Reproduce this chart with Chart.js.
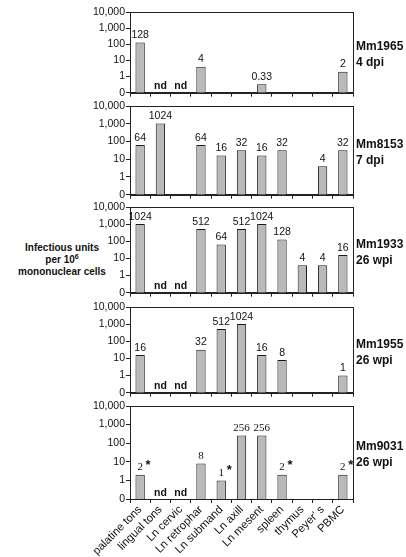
<!DOCTYPE html>
<html lang="en">
<head>
<meta charset="UTF-8">
<title>Infectious units per tissue</title>
<script src="https://cdn.jsdelivr.net/npm/chart.js@4.4.0/dist/chart.umd.min.js"></script>
<style>
  body { margin: 0; background: #fff; }
  #page { position: relative; width: 406px; height: 557px; overflow: hidden; font-family: "Liberation Sans", Arial, sans-serif; }
  .panel { position: absolute; }
  .tag { position: absolute; left: 356px; font-weight: bold; font-size: 12px; line-height: 16px; color: #111; white-space: nowrap; }
  #ylab { position: absolute; left: 0; top: 242px; width: 124px; text-align: center; font-weight: bold; font-size: 10px; line-height: 12px; color: #111; }
  #ylab sup { font-size: 7px; line-height: 0; }
</style>
</head>
<body>
<div id="page">
  <div id="ylab">Infectious units<br>per 10<sup>6</sup><br>mononuclear cells</div>
</div>
<script>
const categories = ['palatine tons', 'lingual tons', 'Ln cervic', 'Ln retrophar', 'Ln submand', 'Ln axill', 'Ln mesent', 'spleen', 'thymus', "Peyer' s", 'PBMC'];
const yTicks = [0.1, 1, 10, 100, 1000, 10000];
const yTickLabels = ['0', '1', '10', '100', '1,000', '10,000'];

// null = no bar; nd lists = category indexes marked "nd"
const mm1965Values = [128, null, null, 4, null, null, 0.33, null, null, null, 2];
const mm1965Nd = [1, 2];
const mm8153Values = [64, 1024, null, 64, 16, 32, 16, 32, null, 4, 32];
const mm8153Nd = [];
const mm1933Values = [1024, null, null, 512, 64, 512, 1024, 128, 4, 4, 16];
const mm1933Nd = [1, 2];
const mm1955Values = [16, null, null, 32, 512, 1024, 16, 8, null, null, 1];
const mm1955Nd = [1, 2];
const mm9031Values = [2, null, null, 8, 1, 256, 256, 2, null, null, 2];
const mm9031Nd = [1, 2];
const mm9031Star = [0, 4, 7, 10];

const panels = [
  { name: 'Mm1965', time: '4 dpi', values: mm1965Values, nd: mm1965Nd, star: [], top: 12, bottom: 94 },
  { name: 'Mm8153', time: '7 dpi', values: mm8153Values, nd: mm8153Nd, star: [], top: 106, bottom: 196 },
  { name: 'Mm1933', time: '26 wpi', values: mm1933Values, nd: mm1933Nd, star: [], top: 207, bottom: 294 },
  { name: 'Mm1955', time: '26 wpi', values: mm1955Values, nd: mm1955Nd, star: [], top: 307, bottom: 394 },
  { name: 'Mm9031', time: '26 wpi', values: mm9031Values, nd: mm9031Nd, star: mm9031Star, top: 406, bottom: 499, serif: true, last: true }
];

const AXIS_LEFT = 130, AXIS_RIGHT = 353, Y_W = 50, PAD_TOP = 8, PAD_RIGHT = 4;

const labelPlugin = {
  id: 'labels',
  afterDatasetsDraw(chart, args, opts) {
    const ctx = chart.ctx;
    const area = chart.chartArea;
    const x = chart.scales.x;
    const meta = chart.getDatasetMeta(0);
    ctx.save();
    ctx.fillStyle = '#111';
    ctx.textAlign = 'center';
    ctx.textBaseline = 'bottom';
    meta.data.forEach((bar, i) => {
      const v = opts.values[i];
      if (v == null) return;
      ctx.font = opts.serif ? '11px "Liberation Serif", "Times New Roman", serif' : '10.5px "Liberation Sans", Arial, sans-serif';
      ctx.fillText(String(v), bar.x, bar.y - 2);
      if (opts.star.includes(i)) {
        ctx.font = 'bold 13px "Liberation Sans", Arial, sans-serif';
        ctx.fillText('*', bar.x + 8, bar.y - 3);
      }
    });
    ctx.font = 'bold 10.5px "Liberation Sans", Arial, sans-serif';
    opts.nd.forEach(i => {
      ctx.fillText('nd', x.getPixelForValue(i), area.bottom - 1);
    });
    // frame
    ctx.strokeStyle = '#222';
    ctx.lineWidth = 1;
    ctx.strokeRect(Math.round(area.left) + 0.5, Math.round(area.top) + 0.5, Math.round(area.right - area.left), Math.round(area.bottom - area.top));
    ctx.restore();
  }
};

const page = document.getElementById('page');

panels.forEach(p => {
  const xH = p.last ? 557 - p.bottom : 6;
  const div = document.createElement('div');
  div.className = 'panel';
  const w = AXIS_RIGHT - AXIS_LEFT + Y_W + PAD_RIGHT;
  const h = PAD_TOP + (p.bottom - p.top) + xH;
  div.style.left = (AXIS_LEFT - Y_W) + 'px';
  div.style.top = (p.top - PAD_TOP) + 'px';
  div.style.width = w + 'px';
  div.style.height = h + 'px';
  const canvas = document.createElement('canvas');
  div.appendChild(canvas);
  page.appendChild(div);

  const tag = document.createElement('div');
  tag.className = 'tag';
  const mid = (p.top + p.bottom) / 2;
  tag.style.top = (mid - 15) + 'px';
  tag.innerHTML = p.name + '<br>' + p.time;
  page.appendChild(tag);

  new Chart(canvas, {
    type: 'bar',
    data: {
      labels: categories,
      datasets: [{
        data: p.values,
        backgroundColor: '#b9b9b9',
        borderColor: '#1a1a1a',
        borderWidth: 1,
        barPercentage: 0.46,
        categoryPercentage: 1
      }]
    },
    options: {
      responsive: true,
      maintainAspectRatio: false,
      devicePixelRatio: 1,
      animation: false,
      layout: { padding: { top: PAD_TOP, right: PAD_RIGHT, left: 0, bottom: 0 } },
      plugins: {
        legend: { display: false },
        tooltip: { enabled: false },
        labels: { values: p.values, nd: p.nd, star: p.star, serif: !!p.serif }
      },
      scales: {
        x: {
          type: 'category',
          offset: true,
          afterFit: s => { s.height = xH; },
          grid: { offset: true, drawOnChartArea: false, color: '#222', tickLength: 4 },
          border: { color: '#222' },
          ticks: {
            display: !!p.last,
            autoSkip: false,
            minRotation: 45,
            maxRotation: 45,
            padding: 0,
            color: '#111',
            font: { family: '"Liberation Sans", Arial, sans-serif', size: 11.3 }
          }
        },
        y: {
          type: 'logarithmic',
          min: 0.1,
          max: 10000,
          afterFit: s => { s.width = Y_W; },
          afterBuildTicks: s => { s.ticks = yTicks.map(v => ({ value: v })); },
          grid: { drawOnChartArea: false, color: '#222', tickLength: 4 },
          border: { color: '#222' },
          ticks: {
            padding: 1,
            color: '#111',
            font: { family: '"Liberation Sans", Arial, sans-serif', size: 10.5 },
            callback: v => yTickLabels[yTicks.indexOf(v)]
          }
        }
      }
    },
    plugins: [labelPlugin]
  });
});
</script>
</body>
</html>
